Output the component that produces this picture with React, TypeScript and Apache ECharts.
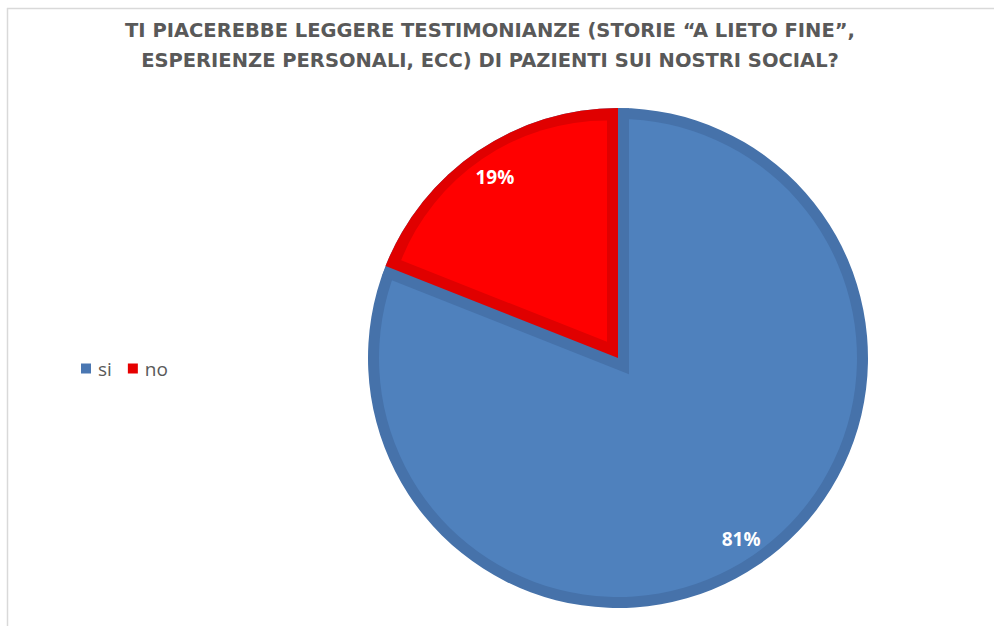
import React, { useEffect, useRef } from "react";
import * as echarts from "echarts";

const categories = ["si", "no"];
const values = [81, 19];
const titleLines = [
  "TI PIACEREBBE LEGGERE TESTIMONIANZE (STORIE \u201CA LIETO FINE\u201D,",
  "ESPERIENZE PERSONALI, ECC) DI PAZIENTI SUI NOSTRI SOCIAL?",
];
const lightColors = ["#4F81BD", "#FF0000"];
const darkColors = ["#4672AA", "#E00000"];
const legendColors = ["#4A77B2", "#E60000"];

const FONT = "'Open Sans', 'DejaVu Sans', sans-serif";
const TITLE_FONT = "'DejaVu Sans', sans-serif";

export default function App() {
  const ref = useRef<HTMLDivElement>(null);
  useEffect(() => {
    if (!ref.current) return;
    const chart = echarts.init(ref.current, undefined, { renderer: "svg" });

    const CX = 618;
    const CY = 358;
    const R = 250;
    const BAND = 11;
    const total = values.reduce((a, b) => a + b, 0);
    const fBig = values[0] / total;
    const fSmall = values[1] / total;
    const mid = (fBig + fSmall / 2) * Math.PI * 2;
    const ux = Math.sin(mid);
    const uy = -Math.cos(mid);
    const half = fSmall * Math.PI;
    const off = BAND / Math.sin(half);
    const rOut = off * Math.cos(half) + Math.sqrt(R * R - BAND * BAND);
    const rIn = R - BAND - off * 0.9;

    const mk = (colors: (string | null)[]) =>
      categories.map((c, i) => ({
        name: c,
        value: values[i],
        itemStyle: { color: colors[i] ?? "rgba(0,0,0,0)", borderWidth: 0 },
      }));

    const base = {
      type: "pie",
      startAngle: 90,
      clockwise: true,
      silent: true,
      label: { show: false },
      labelLine: { show: false },
      emphasis: { disabled: true },
      avoidLabelOverlap: false,
    };

    chart.setOption({
      animation: false,
      title: {
        text: titleLines.join("\n"),
        left: 485,
        textAlign: "center",
        top: 10,
        textStyle: {
          fontFamily: TITLE_FONT,
          fontWeight: "bold",
          fontSize: 19.5,
          color: "#595959",
          lineHeight: 30,
        },
      },
      legend: {
        left: 76,
        top: 354,
        orient: "horizontal",
        icon: "rect",
        itemWidth: 10,
        itemHeight: 10,
        itemGap: 16,
        selectedMode: false,
        data: categories.map((c, i) => ({ name: c, itemStyle: { color: legendColors[i] } })),
        textStyle: { fontFamily: FONT, fontSize: 19, color: "#595959", padding: [0, 0, 0, 2] },
      },
      graphic: [
        { type: "line", shape: { x1: 7, y1: 8.5, x2: 994, y2: 8.5 }, style: { stroke: "#D9D9D9", lineWidth: 1.5 } },
        { type: "line", shape: { x1: 7.5, y1: 8, x2: 7.5, y2: 626 }, style: { stroke: "#D9D9D9", lineWidth: 1.5 } },
      ],
      series: [
        { ...base, name: "ring", center: [CX, CY], radius: R, data: mk([darkColors[0], darkColors[0]]) },
        { ...base, name: "fill", center: [CX, CY], radius: R - BAND, data: mk([lightColors[0], lightColors[0]]) },
        { ...base, name: "bandOut", center: [CX - off * ux, CY - off * uy], radius: rOut, data: mk([null, darkColors[0]]) },
        { ...base, name: "smallDark", center: [CX, CY], radius: R, data: mk([null, darkColors[1]]) },
        { ...base, name: "smallLight", center: [CX + off * ux, CY + off * uy], radius: rIn, data: mk([null, lightColors[1]]) },
        {
          ...base,
          name: "labels",
          center: [CX, CY],
          radius: [198, 234],
          data: mk([null, null]),
          label: {
            show: true,
            position: "inside",
            formatter: "{d}%",
            color: "#FFFFFF",
            fontFamily: FONT,
            fontWeight: "bold",
            fontSize: 19,
          },
        },
      ],
    });
    return () => chart.dispose();
  }, []);
  return (
    <div
      ref={ref}
      style={{ position: "absolute", left: 0, top: 0, width: 994, height: 626, background: "#fff" }}
    />
  );
}
